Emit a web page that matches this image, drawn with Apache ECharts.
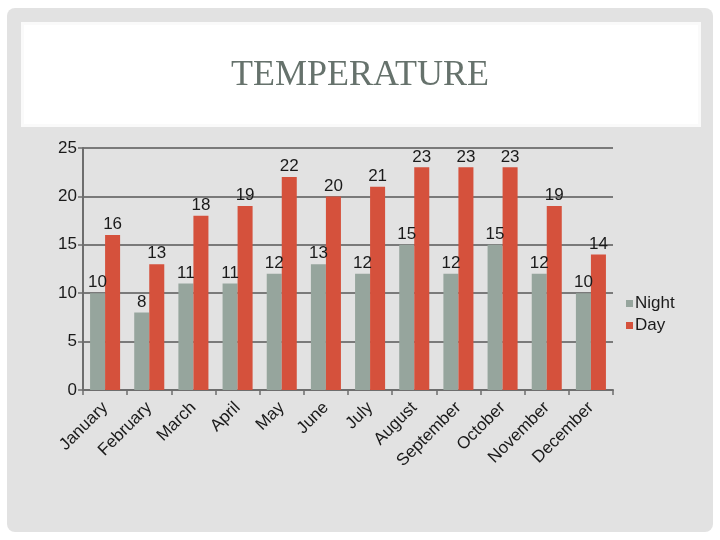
<!DOCTYPE html>
<html><head><meta charset="utf-8">
<script src="https://cdn.jsdelivr.net/npm/echarts@6/dist/echarts.min.js"></script>
<style>html,body{margin:0;padding:0;background:#fff}#c{width:720px;height:540px}</style>
</head><body><div id="c"></div>
<script>
const categories = ['January','February','March','April','May','June','July','August','September','October','November','December'];
const nightValues = [10, 8, 11, 11, 12, 13, 12, 15, 12, 15, 12, 10];
const dayValues = [16, 13, 18, 19, 22, 20, 21, 23, 23, 23, 19, 14];
const yTicks = [0, 5, 10, 15, 20, 25];

const chart = echarts.init(document.getElementById('c'));
const labelStyle = {show: true, position: 'top', distance: 2, fontFamily: 'Liberation Sans, Arial', fontSize: 17, color: '#1a1a1a'};
chart.setOption({
  backgroundColor: '#ffffff',
  graphic: [
    {type: 'rect', z: -10, silent: true, shape: {x: 7, y: 8, width: 706, height: 524, r: 8}, style: {fill: '#e2e2e2'}},
    {type: 'rect', z: -9, silent: true, shape: {x: 21, y: 22, width: 680, height: 105}, style: {fill: '#fafafa'}},
    {type: 'rect', z: -8, silent: true, shape: {x: 24, y: 25, width: 674, height: 99}, style: {fill: '#ffffff'}}
  ],
  title: {
    text: 'TEMPERATURE', left: 'center', top: 53,
    textStyle: {fontFamily: 'Liberation Serif, Times New Roman, serif', fontWeight: 'normal', fontSize: 36, color: '#66726c'}
  },
  legend: {
    orient: 'vertical', left: 621, top: 290, itemWidth: 7, itemHeight: 7, itemGap: 5, icon: 'rect',
    textStyle: {fontFamily: 'Liberation Sans, Arial', fontSize: 17, color: '#1a1a1a', padding: [0,0,0,-3]},
    data: ['Night', 'Day']
  },
  grid: {left: 83, right: 107, top: 148, bottom: 150},
  xAxis: {
    type: 'category', data: categories,
    axisLine: {lineStyle: {color: '#6e6e6e', width: 2}},
    axisTick: {show: true, length: 5, lineStyle: {color: '#6e6e6e', width: 1.5}},
    axisLabel: {rotate: 45, interval: 0, margin: 15, fontFamily: 'Liberation Sans, Arial', fontSize: 17, color: '#1a1a1a'}
  },
  yAxis: {
    type: 'value', min: 0, max: 25, interval: 5,
    axisLine: {show: true, lineStyle: {color: '#6e6e6e', width: 2}},
    axisTick: {show: true, length: 5, lineStyle: {color: '#6e6e6e', width: 1.5}},
    splitLine: {lineStyle: {color: '#7a7a7a', width: 2}},
    axisLabel: {margin: 6, fontFamily: 'Liberation Sans, Arial', fontSize: 17, color: '#1a1a1a',
      formatter: v => yTicks.includes(v) ? String(v) : ''}
  },
  series: [
    {name: 'Night', type: 'bar', data: nightValues, barGap: '0%', barCategoryGap: '32%',
      itemStyle: {color: '#96a59d'}, label: labelStyle},
    {name: 'Day', type: 'bar', data: dayValues, barGap: '0%', barCategoryGap: '32%',
      itemStyle: {color: '#d5513c'}, label: labelStyle}
  ]
});
</script></body></html>
